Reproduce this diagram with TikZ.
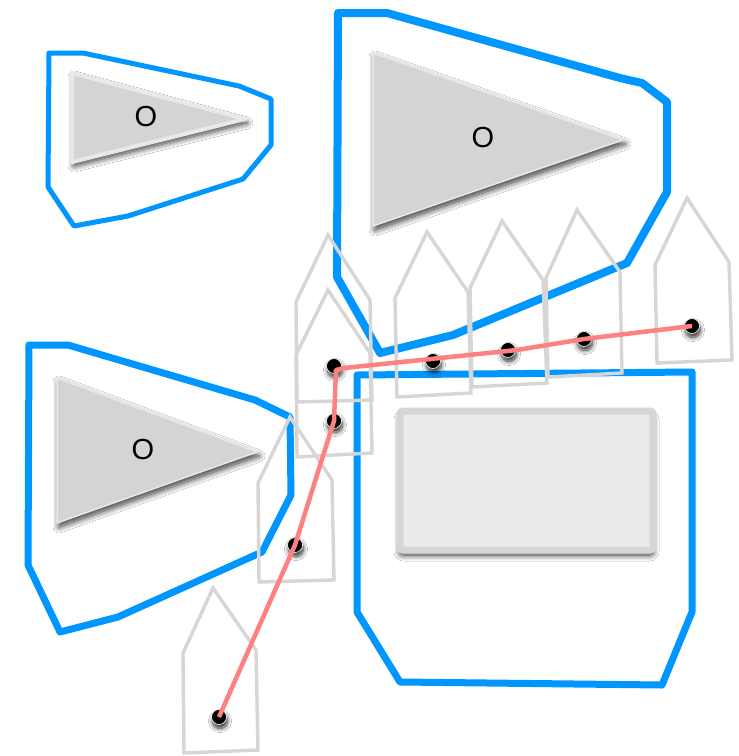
\documentclass[tikz,border=0pt]{standalone}
\usepackage{fontspec}
\setmainfont{Liberation Sans}
\usetikzlibrary{shadows.blur}
\definecolor{zoneblue}{RGB}{0,150,255}
\definecolor{boatgray}{RGB}{214,214,214}
\definecolor{markgray}{RGB}{212,212,212}
\definecolor{markedge}{RGB}{232,232,232}
\definecolor{trackred}{RGB}{255,128,128}
\definecolor{boxfill}{RGB}{234,234,234}
\tikzset{
  zoneline/.style={draw=zoneblue, line join=round, line cap=round},
  boatshape/.style={draw=boatgray, line width=3.4pt},
  flagmark/.style={fill=markgray, draw=markedge, line join=round,
    blur shadow={shadow xshift=2pt, shadow yshift=-4pt, shadow blur steps=15, shadow blur radius=6pt, shadow opacity=80}},
  boatdot/.style={circle, fill=black, draw=white, line width=0.6pt, minimum size=15pt, inner sep=0pt,
    blur shadow={shadow xshift=1pt, shadow yshift=-4pt, shadow blur steps=10, shadow blur radius=4pt, shadow opacity=80}},
  trackline/.style={draw=trackred, line width=4.5pt, line join=round},
  lbl/.style={font=\fontsize{29}{31}\selectfont, inner sep=0pt}
}
\begin{document}
\begin{tikzpicture}[x=1pt,y=-1pt]
\useasboundingbox[fill=white] (0,0) rectangle (739,756);
% zones
\draw[zoneline, line width=5pt] (74,226) -- (48,187) -- (49,53) -- (83,53) -- (239,86) -- (271,99) -- (271,145) -- (243,179) -- (128,216) -- cycle;
\draw[zoneline, line width=8pt] (338,13) -- (387,13) -- (620,78) -- (642,83) -- (667,102) -- (667,192) -- (627,263) -- (453,335) -- (380,353) -- (337,277) -- cycle;
\draw[zoneline, line width=7pt] (29,345) -- (68,345) -- (255,400) -- (290,417) -- (291,495) -- (262,552) -- (118,617) -- (60,632) -- (28,565) -- cycle;
\draw[zoneline, line width=7pt] (357,375) -- (692,372) -- (692,612) -- (662,685) -- (400,682) -- (357,612) -- cycle;
% marks
\draw[flagmark, line width=4pt] (72,73) -- (245,119) -- (72,162) -- cycle;
\node[lbl] (o1) at (146,117) {O};
\draw[flagmark, line width=1.5pt] (373,53) -- (623,140) -- (373,226) -- cycle;
\node[lbl] (o2) at (483,138) {O};
\draw[flagmark, line width=1.5pt] (57,378) -- (257,452) -- (57,523) -- cycle;
\node[lbl] (o3) at (143,450) {O};
% committee box
\draw[draw=boatgray, fill=boxfill, line width=7pt, rounded corners=3pt,
  blur shadow={shadow xshift=0pt, shadow yshift=-5pt, shadow blur steps=12, shadow blur radius=6pt, shadow opacity=80}]
  (400,411) rectangle (653,550);
% boats
\draw[boatshape] (328,235) -- (370,300) -- (372,400) -- (297,402) -- (296,302) -- cycle;
\draw[boatshape] (328,290) -- (370,353) -- (372,453) -- (297,457) -- (296,355) -- cycle;
\draw[boatshape] (427,232) -- (468,292) -- (471,393) -- (397,397) -- (395,298) -- cycle;
\draw[boatshape] (502,221) -- (543,280) -- (547,383) -- (472,387) -- (470,288) -- cycle;
\draw[boatshape] (577,210) -- (620,272) -- (622,373) -- (548,377) -- (546,278) -- cycle;
\draw[boatshape] (687,198) -- (729,262) -- (732,360) -- (657,363) -- (655,265) -- cycle;
\draw[boatshape] (290,417) -- (332,480) -- (334,580) -- (259,582) -- (258,483) -- cycle;
\draw[boatshape] (213,588) -- (256,650) -- (258,750) -- (184,753) -- (183,653) -- cycle;
% dots
\node[boatdot] (d1) at (334,366) {};
\node[boatdot] (d2) at (334,421) {};
\node[boatdot] (d3) at (433,361) {};
\node[boatdot] (d4) at (508,350) {};
\node[boatdot] (d5) at (584,339) {};
\node[boatdot] (d6) at (692,326) {};
\node[boatdot] (d7) at (295,545) {};
\node[boatdot] (d8) at (219,717) {};
% track
\coordinate (c1) at (336,370);
\coordinate (c2) at (344,368);
\coordinate (c3) at (517,350);
\draw[trackline] (d8.center) -- (d7.center) -- (d2.center) -- (c1) -- (c2) -- (c3) -- (d5.center) -- (d6.center);
\end{tikzpicture}
\end{document}
